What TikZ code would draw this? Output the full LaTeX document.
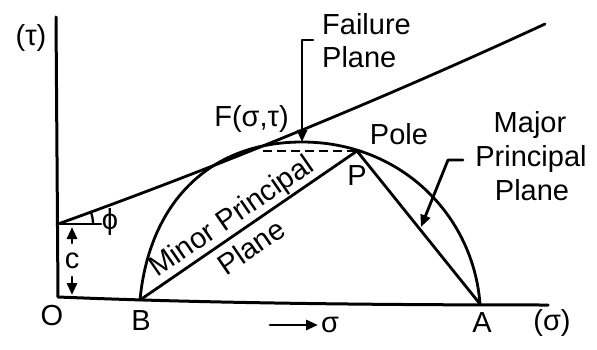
\documentclass[tikz,border=0pt]{standalone}
\usepackage{fontspec}
\setmainfont{Liberation Sans}
\usetikzlibrary{arrows.meta}
\begin{document}
\begin{tikzpicture}[x=1pt,y=-1pt,
  lbl/.style={inner sep=0pt, font=\fontsize{29}{34}\selectfont},
  ln/.style={line width=2.8pt, line cap=round, line join=round},
  tip/.style={-{Triangle[length=12pt,width=10pt]}},
]
\useasboundingbox[fill=white] (0,0) rectangle (597,350);
% key points
\coordinate (Ytop) at (56,17);
\coordinate (O) at (58,297);
\coordinate (Xend) at (548,305);
\coordinate (I) at (58,224);
\coordinate (E) at (545,24);
\coordinate (B) at (140,300);
\coordinate (T) at (302,142);
\coordinate (A) at (480,304);
\coordinate (P) at (357,151);
\coordinate (Q) at (263,151);
\coordinate (Ih) at (101,224);
\coordinate (Fk) at (313,40);
\coordinate (Fc) at (302,40);
\coordinate (Mk) at (463,160);
\coordinate (Mc) at (448,160);
\coordinate (Mt) at (421,227);
\coordinate (Cu0) at (72,243);
\coordinate (Cu1) at (72,227);
\coordinate (Cd0) at (72,277);
\coordinate (Cd1) at (72,295);
\coordinate (S0) at (270,325);
\coordinate (S1) at (318,325);
% axes
\draw[ln, line width=3pt] (Ytop) -- (O) .. controls (180,302) and (330,305) .. (Xend);
% failure envelope
\draw[ln] (I) .. controls (220.3,165.7) and (382.7,99) .. (E);
% Mohr circle
\draw[ln] (B) .. controls (148.9,205.4) and (207,142) .. (T)
          .. controls (400,142) and (473.2,214.3) .. (A);
% planes
\draw[ln] (B) -- (P) -- (A);
\draw[line width=2.3pt, dash pattern=on 9pt off 5pt] (Q) -- (P);
% phi
\draw[ln] (I) -- (Ih);
\draw[line width=2.3pt] (93,224) arc[start angle=0, end angle=-21, radius=35];
% c arrows
\draw[ln, tip] (Cu0) -- (Cu1);
\draw[ln, tip] (Cd0) -- (Cd1);
% leaders
\draw[ln, tip] (Fk) -- (Fc) -- (T);
\draw[ln, tip] (Mk) -- (Mc) -- (Mt);
\draw[ln, tip] (S0) -- (S1);
% labels
\node[lbl, anchor=base] (tau) at (31,46) {(τ)};
\node[lbl, anchor=base] (sig) at (552,330) {(σ)};
\node[lbl, anchor=base] (lO) at (52,325) {O};
\node[lbl, anchor=base] (lB) at (141,330) {B};
\node[lbl, anchor=base] (lA) at (482,332) {A};
\node[lbl, anchor=base] (lP) at (357,185) {P};
\node[lbl, anchor=base] (lsig) at (330,332) {σ};
\node[lbl, anchor=base] (lc) at (72,268) {c};
\node[lbl, anchor=base] (lphi) at (110,229) {ϕ};
\node[lbl, anchor=base] (lF) at (251.5,127) {F(σ,τ)};
\node[lbl, anchor=base] (lPole) at (399,145) {Pole};
\node[lbl, anchor=base west] (lFa1) at (322,35) {Failure};
\node[lbl, anchor=base west] (lFa2) at (322,68) {Plane};
\node[lbl, anchor=base] (lM1) at (530,132) {Major};
\node[lbl, anchor=base] (lM2) at (531,167) {Principal};
\node[lbl, anchor=base] (lM3) at (532,200) {Plane};
\node[lbl, rotate=34.5] (lMin1) at (232.5,217.5) {Minor Principal};
\node[lbl, rotate=34.5] (lMin2) at (251,247) {Plane};
\end{tikzpicture}
\end{document}
